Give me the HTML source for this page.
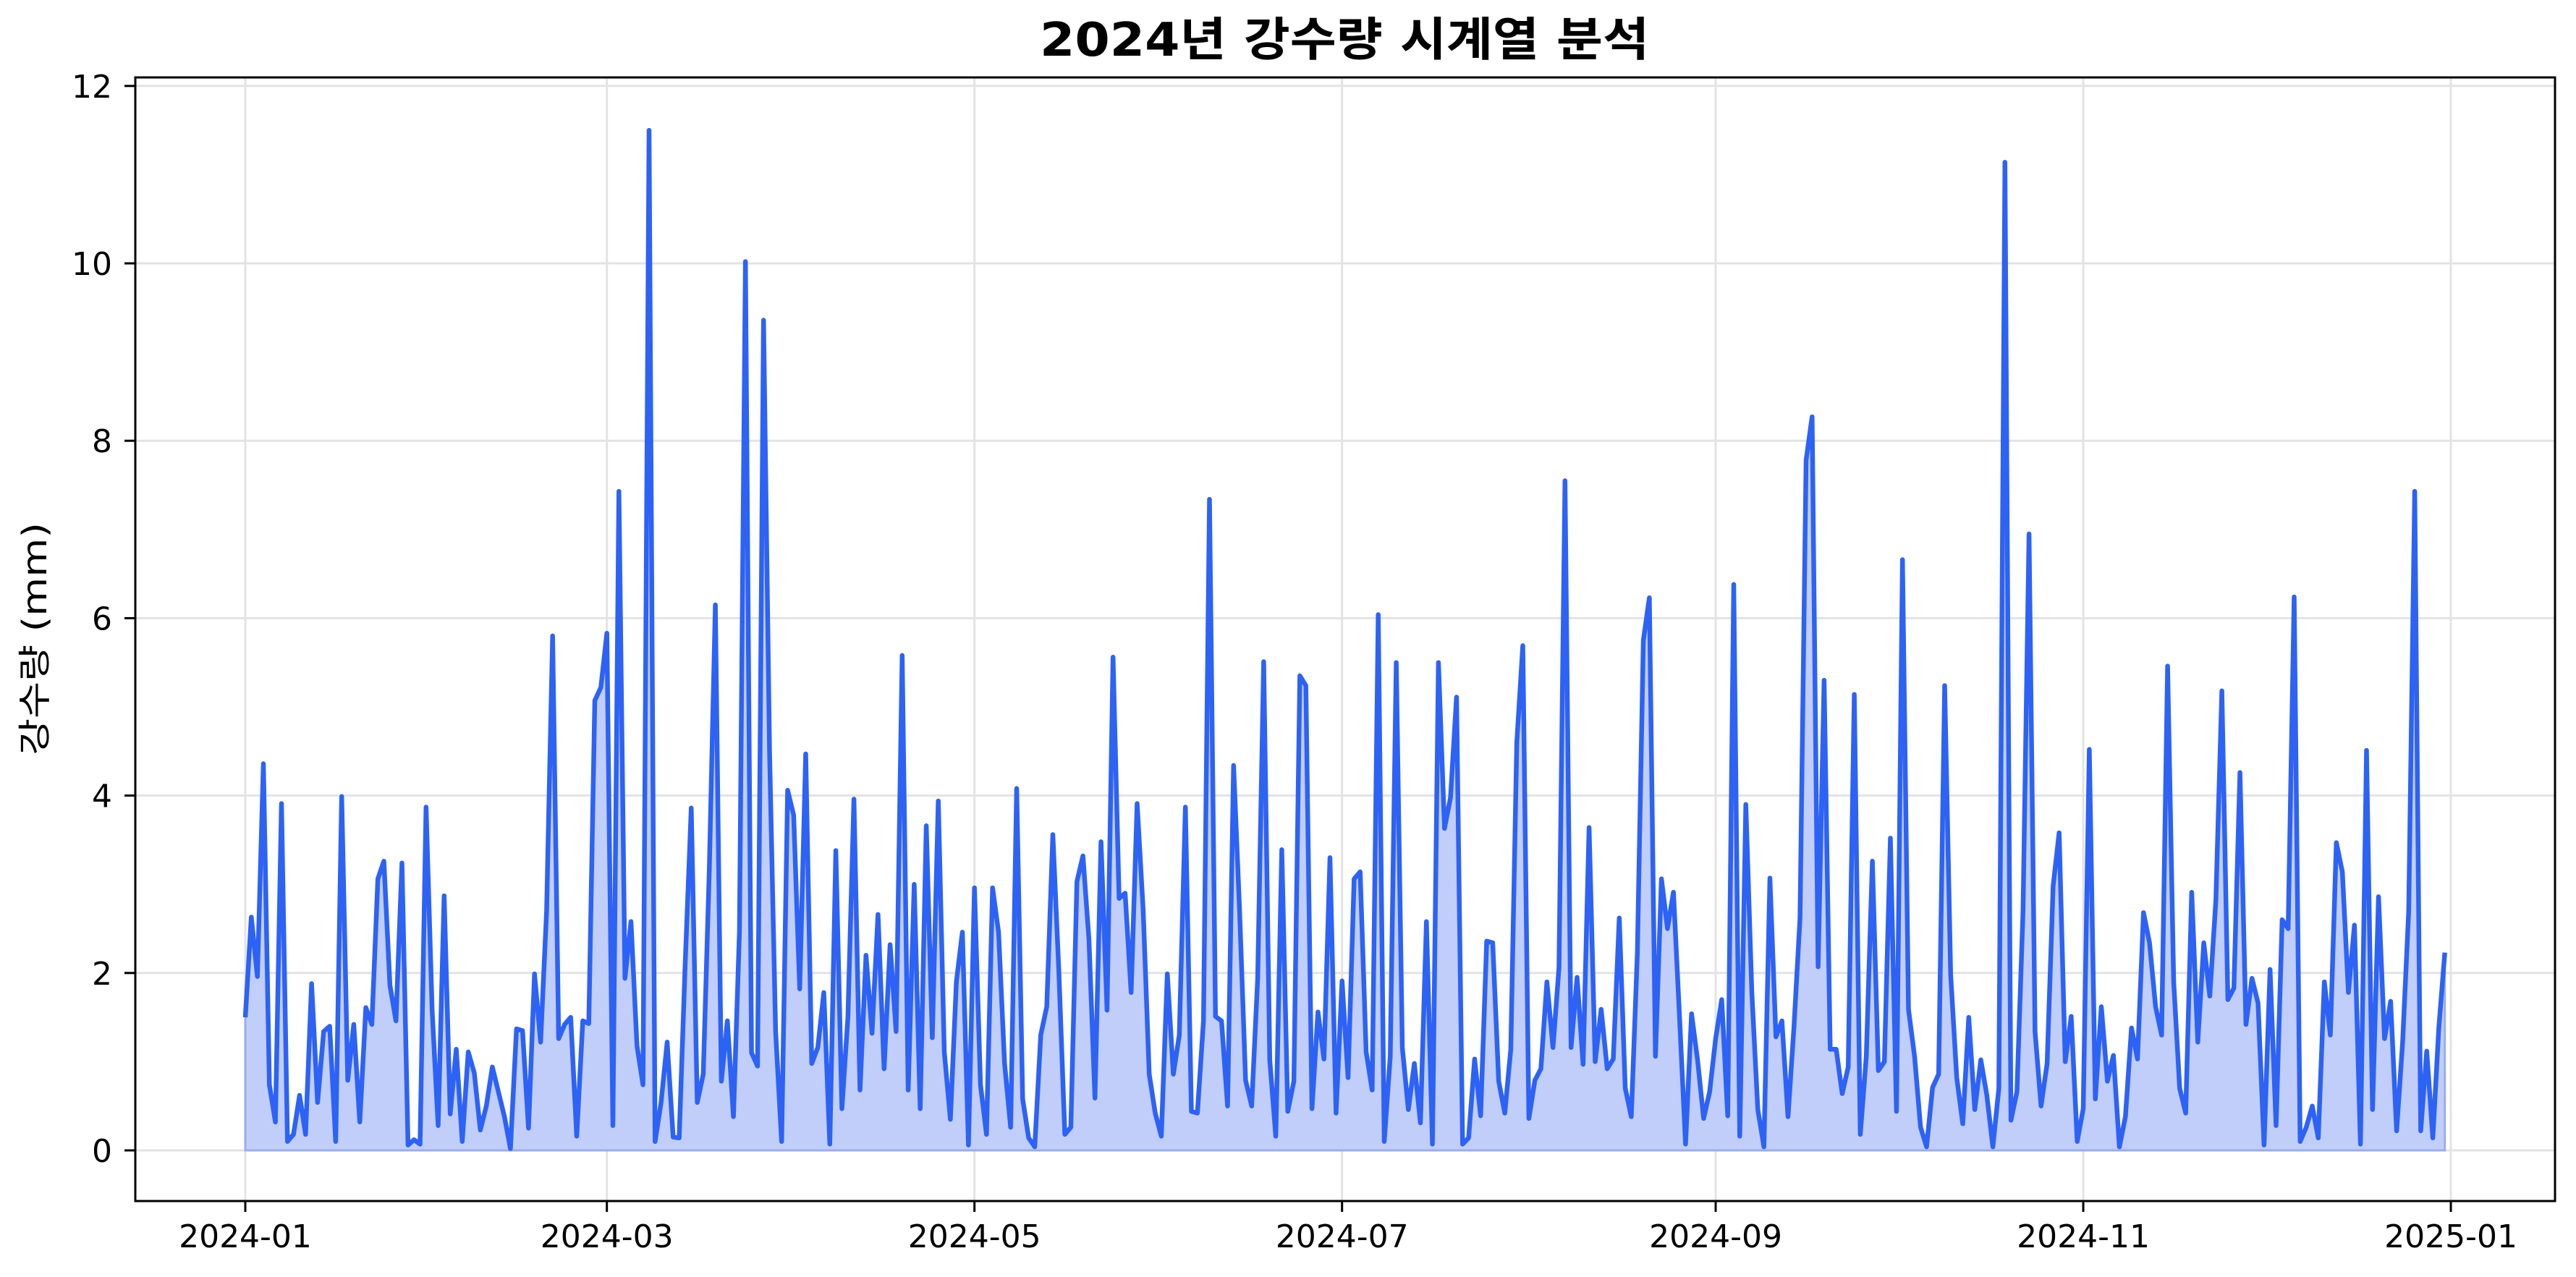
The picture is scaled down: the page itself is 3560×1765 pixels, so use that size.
<!DOCTYPE html>
<html><head><meta charset="utf-8">
<style>
html,body{margin:0;padding:0;background:#fff;}
svg{display:block;}
text{font-family:"DejaVu Sans","Liberation Sans","Noto Sans CJK KR",sans-serif;fill:#000;}
</style></head>
<body>
<svg id="chart" width="3560" height="1765" viewBox="0 0 3560 1765" xmlns="http://www.w3.org/2000/svg">
<rect x="0" y="0" width="3560" height="1765" fill="#fff"/>
<g id="grid"></g>
<g id="marks"></g>
<g id="axes"></g>
<text x="1858" y="77" text-anchor="middle" font-size="64" font-weight="bold" textLength="842" lengthAdjust="spacingAndGlyphs" style='font-family:"DejaVu Sans","Noto Sans CJK KR",sans-serif'>2024년 강수량 시계열 분석</text>
<text x="0" y="0" transform="translate(64,883) rotate(-90)" text-anchor="middle" font-size="46" textLength="322" lengthAdjust="spacingAndGlyphs" style='font-family:"DejaVu Sans","Noto Sans CJK KR",sans-serif'>강수량 (mm)</text>
</svg>
<script>
const rainfall = [
1.5,2.63,1.96,4.36,0.74,0.32,3.91,0.1,0.18,0.62,0.18,1.88,0.54,1.34,1.4,0.1,3.99,0.79,1.42,0.32,
1.61,1.42,3.06,3.26,1.86,1.46,3.24,0.06,0.12,0.07,3.87,1.58,0.28,2.87,0.41,1.14,0.1,1.11,0.87,0.23,
0.5,0.94,0.66,0.38,0.02,1.37,1.35,0.25,1.99,1.22,2.7,5.8,1.26,1.42,1.5,0.16,1.46,1.43,5.07,5.22,
5.83,0.28,7.43,
1.94,2.58,1.18,0.74,11.5,0.1,0.54,1.22,0.15,0.14,2.1,3.86,0.54,0.86,3.18,6.15,0.78,1.46,0.38,2.46,
10.02,1.1,0.95,9.36,4.5,1.34,0.1,4.06,3.78,1.82,4.47,0.98,1.16,1.78,0.07,3.38,0.47,1.5,3.96,0.68,
2.2,1.32,2.66,0.92,2.32,1.34,5.58,0.68,3.0,0.47,3.66,1.27,3.94,1.11,0.35,1.9,2.46,0.06,2.96,0.74,
0.18,2.96,2.46,
0.98,0.26,4.08,0.58,0.14,0.04,1.3,1.62,3.56,2.02,0.18,0.26,3.03,3.32,2.38,0.59,3.48,1.58,5.56,2.84,
2.9,1.78,3.91,2.7,0.86,0.42,0.16,1.99,0.86,1.3,3.87,0.44,0.42,1.46,7.34,1.51,1.46,0.5,4.34,2.7,
0.79,0.5,1.94,5.51,1.02,0.16,3.39,0.44,0.78,5.35,5.24,0.47,1.56,1.03,3.3,0.42,1.91,0.82,3.06,3.14,
1.11,0.68,
6.04,0.1,1.06,5.5,1.16,0.46,0.98,0.31,2.58,0.07,5.5,3.63,3.98,5.11,0.07,0.14,1.03,0.39,2.36,2.34,
0.78,0.42,1.14,4.6,5.69,0.36,0.79,0.92,1.9,1.16,2.06,7.55,1.16,1.95,0.97,3.64,1.0,1.59,0.92,1.03,
2.62,0.7,0.38,2.22,5.75,6.23,1.06,3.06,2.5,2.91,1.5,0.07,1.54,1.02,0.36,0.66,1.26,1.7,0.39,6.38,
0.16,3.9,
1.78,0.46,0.04,3.07,1.28,1.46,0.38,1.4,2.62,7.78,8.27,2.07,5.3,1.14,1.14,0.64,0.94,5.14,0.18,1.06,
3.26,0.9,1.0,3.52,0.44,6.66,1.59,1.06,0.26,0.04,0.71,0.86,5.24,1.98,0.82,0.3,1.5,0.46,1.02,0.62,
0.04,0.7,11.14,0.34,0.66,2.7,6.95,1.34,0.5,0.98,2.98,3.58,1.0,1.51,0.1,0.47,4.52,0.58,1.62,0.78,
1.07,0.04,
0.38,1.38,1.03,2.68,2.34,1.62,1.3,5.46,1.9,0.7,0.42,2.91,1.22,2.34,1.74,2.82,5.18,1.7,1.83,4.26,
1.42,1.94,1.66,0.06,2.04,0.28,2.6,2.5,6.24,0.1,0.26,0.5,0.14,1.9,1.3,3.47,3.14,1.78,2.54,0.07,
4.51,0.46,2.86,1.26,1.68,0.22,1.22,2.7,7.43,0.22,1.12,0.14,1.38,2.23
];
const xTickLabels = ["2024-01","2024-03","2024-05","2024-07","2024-09","2024-11","2025-01"];
const xTickDays = [0,60,121,182,244,305,366];
const yTickValues = [0,2,4,6,8,10,12];

const NS = "http://www.w3.org/2000/svg";
const L = 187, R = 3531, T = 107, B = 1660;
const X0 = 339, DAY = 8.328;
const Y0 = 1590, UNIT = 122.6;
function xs(d){ return X0 + d*DAY; }
function ys(v){ return Y0 - v*UNIT; }
function mk(tag, attrs, parent){
  const e = document.createElementNS(NS, tag);
  for (const k in attrs) e.setAttribute(k, attrs[k]);
  parent.appendChild(e); return e;
}
const grid = document.getElementById('grid');
const marks = document.getElementById('marks');
const axes = document.getElementById('axes');

yTickValues.forEach(v => {
  const g = mk('line', {x1:L, x2:R, y1:ys(v), y2:ys(v), stroke:'#e3e3e3', 'stroke-width':3}, grid);
  
  
});
xTickDays.forEach(d => {
  const g = mk('line', {x1:xs(d), x2:xs(d), y1:T, y2:B, stroke:'#e3e3e3', 'stroke-width':3}, grid);
  
  
});

let pts = rainfall.map((v,i) => xs(i).toFixed(1)+','+ys(v).toFixed(1));
const n = rainfall.length - 1;
const area = mk('polygon', {points: xs(0)+','+ys(0)+' '+pts.join(' ')+' '+xs(n)+','+ys(0), fill:'#c1cefa', stroke:'#9aaee8', 'stroke-width':3}, marks);


const line = mk('polyline', {points: pts.join(' '), fill:'none', stroke:'#2d62f7', 'stroke-width':6.5, 'stroke-linejoin':'round'}, marks);



const frame = mk('rect', {x:L, y:T, width:R-L, height:B-T, fill:'none', stroke:'#000', 'stroke-width':3}, axes);



yTickValues.forEach(v => {
  const t = mk('line', {x1:L-15, x2:L, y1:ys(v), y2:ys(v), stroke:'#000', 'stroke-width':3}, axes);
  
  
  const lb = mk('text', {x:L-32, y:ys(v)+16, 'text-anchor':'end', 'font-size':44}, axes);
  lb.textContent = String(v);
  
  
});
xTickDays.forEach((d,i) => {
  const t = mk('line', {x1:xs(d), x2:xs(d), y1:B, y2:B+15, stroke:'#000', 'stroke-width':3}, axes);
  
  
  const lb = mk('text', {x:xs(d), y:B+64, 'text-anchor':'middle', 'font-size':44}, axes);
  lb.textContent = xTickLabels[i];
  
  
});
</script>
</body></html>
